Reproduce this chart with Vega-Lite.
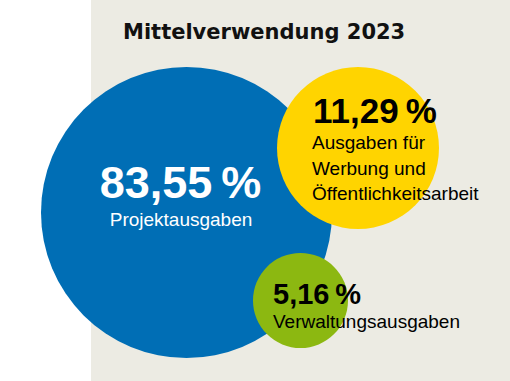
{
  "$schema": "https://vega.github.io/schema/vega-lite/v6.json",
  "width": 510,
  "height": 381,
  "padding": 0,
  "autosize": {"type": "none"},
  "background": "#ffffff",
  "config": {"view": {"stroke": null}},
  "datasets": {
    "anteile": [
      {"kategorie": "Projektausgaben", "anteil": 83.55, "label": "83,55\u2009%", "text": "Projektausgaben", "bx": 186.5, "by": 212.5},
      {"kategorie": "Werbung", "anteil": 11.29, "label": "11,29\u2009%", "text": "Ausgaben für\nWerbung und\nÖffentlichkeitsarbeit", "bx": 358, "by": 148},
      {"kategorie": "Verwaltung", "anteil": 5.16, "label": "5,16\u2009%", "text": "Verwaltungsausgaben", "bx": 300.5, "by": 300.5}
    ],
    "hintergrund": [{"x0": 91, "x1": 510, "y0": 0, "y1": 381, "titel": "Mittelverwendung 2023", "tx": 123, "ty": 39}]
  },
  "layer": [
    {
      "data": {"name": "hintergrund"},
      "mark": {"type": "rect", "color": "#ECEBE3"},
      "encoding": {
        "x": {"field": "x0", "type": "quantitative", "scale": {"domain": [0, 510], "nice": false, "zero": false}, "axis": null},
        "x2": {"field": "x1"},
        "y": {"field": "y0", "type": "quantitative", "scale": {"domain": [0, 381], "nice": false, "zero": false, "reverse": true}, "axis": null},
        "y2": {"field": "y1"}
      }
    },
    {
      "data": {"name": "hintergrund"},
      "mark": {"type": "text", "font": "DejaVu Sans", "fontWeight": "bold", "fontSize": 21, "align": "left", "baseline": "alphabetic", "color": "#111111"},
      "encoding": {
        "x": {"field": "tx", "type": "quantitative", "scale": {"domain": [0, 510], "nice": false, "zero": false}, "axis": null},
        "y": {"field": "ty", "type": "quantitative", "scale": {"domain": [0, 381], "nice": false, "zero": false, "reverse": true}, "axis": null},
        "text": {"field": "titel"}
      }
    },
    {
      "data": {"name": "anteile"},
      "encoding": {
        "x": {"field": "bx", "type": "quantitative", "scale": {"domain": [0, 510], "nice": false, "zero": false}, "axis": null},
        "y": {"field": "by", "type": "quantitative", "scale": {"domain": [0, 381], "nice": false, "zero": false, "reverse": true}, "axis": null}
      },
      "layer": [
        {
          "mark": {"type": "point", "shape": "circle", "filled": true, "opacity": 1, "strokeWidth": 0},
          "encoding": {
            "size": {"field": "anteil", "type": "quantitative", "scale": {"type": "pow", "exponent": 0.2, "domain": [5.16, 83.55], "range": [9025, 84681], "zero": false}, "legend": null},
            "color": {"field": "kategorie", "type": "nominal", "scale": {"domain": ["Projektausgaben", "Werbung", "Verwaltung"], "range": ["#006EB5", "#FFD400", "#8CB811"]}, "legend": null}
          }
        },
        {
          "transform": [{"filter": "datum.kategorie === 'Projektausgaben'"}],
          "mark": {"type": "text", "font": "Liberation Sans", "fontWeight": "bold", "fontSize": 45, "align": "center", "baseline": "alphabetic", "color": "#ffffff", "dx": -6, "dy": -14.5},
          "encoding": {"text": {"field": "label"}}
        },
        {
          "transform": [{"filter": "datum.kategorie === 'Projektausgaben'"}],
          "mark": {"type": "text", "font": "Liberation Sans", "fontSize": 19, "align": "center", "baseline": "alphabetic", "color": "#ffffff", "dx": -5.5, "dy": 13.5},
          "encoding": {"text": {"field": "text"}}
        },
        {
          "transform": [{"filter": "datum.kategorie === 'Werbung'"}],
          "mark": {"type": "text", "font": "Liberation Sans", "fontWeight": "bold", "fontSize": 35, "align": "left", "baseline": "alphabetic", "color": "#000000", "dx": -45, "dy": -25},
          "encoding": {"text": {"field": "label"}}
        },
        {
          "transform": [{"filter": "datum.kategorie === 'Werbung'"}],
          "mark": {"type": "text", "font": "Liberation Sans", "fontSize": 19, "align": "left", "baseline": "alphabetic", "color": "#000000", "dx": -46, "dy": 1, "lineBreak": "\n", "lineHeight": 25.5},
          "encoding": {"text": {"field": "text"}}
        },
        {
          "transform": [{"filter": "datum.kategorie === 'Verwaltung'"}],
          "mark": {"type": "text", "font": "Liberation Sans", "fontWeight": "bold", "fontSize": 29, "align": "left", "baseline": "alphabetic", "color": "#000000", "dx": -27.5, "dy": 3.5},
          "encoding": {"text": {"field": "label"}}
        },
        {
          "transform": [{"filter": "datum.kategorie === 'Verwaltung'"}],
          "mark": {"type": "text", "font": "Liberation Sans", "fontSize": 19, "align": "left", "baseline": "alphabetic", "color": "#000000", "dx": -27.5, "dy": 27.5},
          "encoding": {"text": {"field": "text"}}
        }
      ]
    }
  ]
}
